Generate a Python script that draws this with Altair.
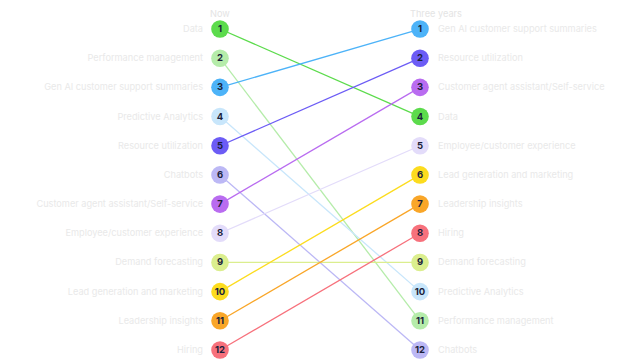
import altair as alt
import pandas as pd

categories = [
    "Data", "Performance management", "Gen AI customer support summaries",
    "Predictive Analytics", "Resource utilization", "Chatbots",
    "Customer agent assistant/Self-service", "Employee/customer experience",
    "Demand forecasting", "Lead generation and marketing",
    "Leadership insights", "Hiring",
]
now_rank = [1, 2, 3, 4, 5, 6, 7, 8, 9, 10, 11, 12]
future_rank = [4, 11, 1, 10, 2, 12, 3, 5, 9, 6, 7, 8]
colors = [
    "#5cdb4c", "#b5ecaa", "#4db3f8", "#c8e6fb", "#6c5cf5", "#bcb8f5",
    "#b96cf0", "#e3dcfa", "#dbee8e", "#fcdc1e", "#f9a628", "#f7717c",
]
headers = ["Now", "Three years"]

rows = []
for c, n, f in zip(categories, now_rank, future_rank):
    rows.append({"cat": c, "col": 0, "rank": n, "side": "left"})
    rows.append({"cat": c, "col": 1, "rank": f, "side": "right"})
df = pd.DataFrame(rows)
hdr = pd.DataFrame({"h": headers, "col": [0, 1]})

xs = alt.Scale(domain=[-1.06, 2.06])
ys = alt.Scale(domain=[0.28, 12.343], reverse=True)
col_scale = alt.Scale(domain=categories, range=colors)

base = alt.Chart(df).encode(
    x=alt.X("col:Q", scale=xs, axis=None),
    y=alt.Y("rank:Q", scale=ys, axis=None),
)

lines = base.mark_line(strokeWidth=1.3).encode(
    color=alt.Color("cat:N", scale=col_scale, legend=None),
    detail="cat:N",
)
dots = base.mark_circle(size=310, opacity=1).encode(
    color=alt.Color("cat:N", scale=col_scale, legend=None),
)
nums = base.mark_text(font="Inter", fontSize=9.5, fontWeight="bold", color="#1b1f3b").encode(
    text="rank:Q"
)
left_lbl = base.transform_filter("datum.side == 'left'").mark_text(
    font="Inter", fontSize=9.2, align="right", dx=-17, color="#e9e9e9"
).encode(text="cat:N")
right_lbl = base.transform_filter("datum.side == 'right'").mark_text(
    font="Inter", fontSize=9.2, align="left", dx=18, color="#e9e9e9"
).encode(text="cat:N")
head = alt.Chart(hdr).mark_text(
    font="Inter", fontSize=9.2, align="left", baseline="middle", dx=-10, color="#e4e4e4"
).encode(
    x=alt.X("col:Q", scale=xs, axis=None),
    y=alt.value(6),
    text="h:N",
)

chart = alt.layer(lines, dots, nums, left_lbl, right_lbl, head).properties(
    width=624, height=352, padding=0, autosize=alt.AutoSizeParams(type="none")
).configure_view(stroke=None)

chart.save("out.html", embed_options={"renderer": "svg", "actions": False})
